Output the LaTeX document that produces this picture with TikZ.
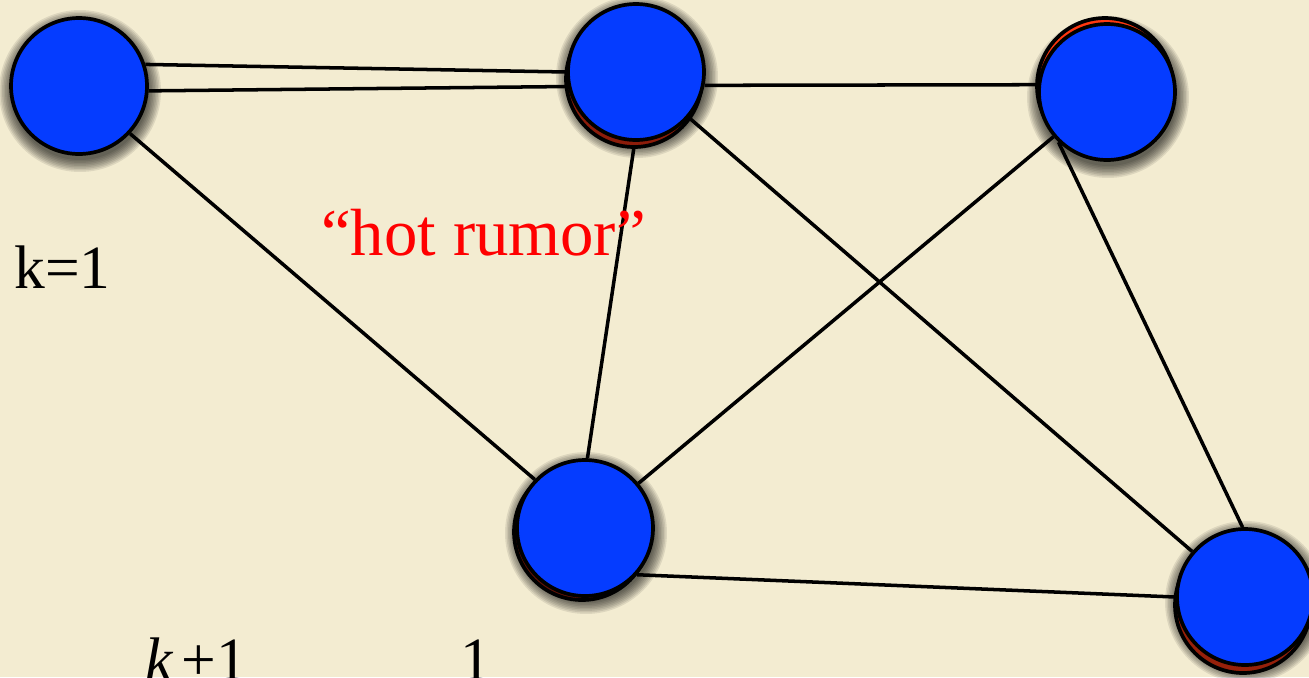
\documentclass[tikz,border=0pt]{standalone}
\usepackage{fontspec}
\setmainfont{Liberation Serif}
\usetikzlibrary{calc}
\pgfdeclarelayer{paperlayer}
\pgfdeclarelayer{shadowlayer}
\pgfdeclarelayer{edgelayer}
\pgfsetlayers{paperlayer,shadowlayer,edgelayer,main}
\definecolor{paper}{RGB}{243,236,209}
\definecolor{ballblue}{RGB}{5,60,255}
\definecolor{rimdark}{RGB}{140,28,10}
\definecolor{rimbright}{RGB}{255,55,15}
\definecolor{rimdeep}{RGB}{95,18,6}
\definecolor{rimmid}{RGB}{150,32,10}
\begin{document}
\begin{tikzpicture}[x=0.02cm,y=-0.02cm,
  ball/.style={circle, draw=black, line width=2.1pt, fill=ballblue, minimum size=2.72cm, inner sep=0pt},
  rim/.style={circle, draw=black, line width=2.1pt, minimum size=2.72cm, inner sep=0pt},
  edgeline/.style={line width=2pt, draw=black},
  lbl/.style={font=\fontsize{35}{40}\selectfont, inner sep=0pt, anchor=base west}]
\begin{pgfonlayer}{paperlayer}
  \fill[paper] (0,0) rectangle (1309,677);
\end{pgfonlayer}
\useasboundingbox (0,0) rectangle (1309,677);
% rims (offset second discs)
\node[rim, fill=rimdark]   (Br) at (634,79)  {};
\node[rim, fill=rimbright] (Cr) at (1105,86) {};
\node[rim, fill=rimdeep]   (Dr) at (582,532) {};
\node[rim, fill=rimmid]    (Er) at (1243,605) {};
% blue discs
\node[ball] (A) at (79,86)   {};
\node[ball] (B) at (636,72)  {};
\node[ball] (C) at (1107,92) {};
\node[ball] (D) at (585,528) {};
\node[ball] (E) at (1245,597) {};
% soft shadows
\begin{pgfonlayer}{shadowlayer}
  \foreach \p in {A,B,C,D,E}{
    \foreach \i in {0,...,8}{
      \fill[black, opacity=0.09] ($(\p)+(1,5)$) circle[radius=1.38cm+\i*0.03cm];
    }
  }
\end{pgfonlayer}
% edges
\begin{pgfonlayer}{edgelayer}
  \draw[edgeline] (A.18) -- (B.180);
  \draw[edgeline] (A.-4) -- (B.192);
  \draw[edgeline] (A.-43) -- (D.136);
  \draw[edgeline] (B.-11) -- (C.174);
  \draw[edgeline] (B.-91) -- (D.88);
  \draw[edgeline] (B) -- (E);
  \draw[edgeline] (C) -- (D);
  \draw[edgeline] (C.226) -- (E.92);
  \draw[edgeline] (D.-42) -- (E.180);
\end{pgfonlayer}
% labels
\node[lbl] (k1) at (14,288) {k=1};
\node[lbl, text=red, font=\fontsize{38}{42}\selectfont] (hot) at (321,255) {“hot rumor”};
\node[lbl] (frac1) at (145,680) {\itshape k\hspace{5pt}\upshape+\hspace{0pt}1};
\node[lbl] (frac2) at (460,680) {1};
\end{tikzpicture}
\end{document}
